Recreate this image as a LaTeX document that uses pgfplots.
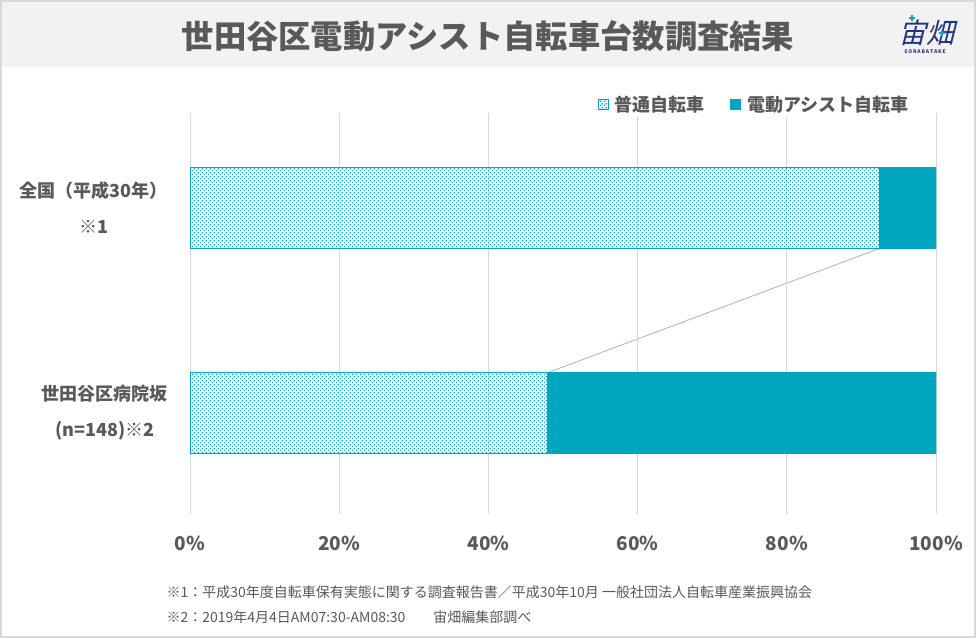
\documentclass[border=0pt]{standalone}
\usepackage{pgfplots}
\pgfplotsset{compat=1.18}
\usepackage{fontspec}
\setmainfont{Noto Sans CJK JP}
\newfontfamily\logofont[FakeSlant=0.25]{Noto Sans CJK JP}
\usetikzlibrary{patterns.meta}
\definecolor{tealc}{HTML}{00A5BF}
\definecolor{textgray}{HTML}{595959}
\definecolor{gridgray}{HTML}{D9D9D9}
\definecolor{headgray}{HTML}{F2F2F2}
\definecolor{navy}{HTML}{26337F}
\tikzdeclarepattern{
  name=tealdots,
  type=uncolored,
  bottom left={(0pt,0pt)},
  top right={(4pt,4pt)},
  tile size={(4pt,4pt)},
  code={\fill (0pt,0pt) rectangle (1.5pt,1.5pt); \fill (2pt,2pt) rectangle (3.5pt,3.5pt);}
}
\begin{document}
\begin{tikzpicture}[x=1pt,y=1pt]
\useasboundingbox (0,0) rectangle (976,638);
\fill[white] (0,0) rectangle (976,638);
\fill[headgray] (0,571) rectangle (976,638);
\draw[gridgray, line width=2pt] (1,1) rectangle (975,637);
\node[text=textgray, font=\fontsize{32.3}{34}\selectfont\bfseries] at (488,602) {世田谷区電動アシスト自転車台数調査結果};
% logo
\node[text=navy, font=\fontsize{28}{30}\selectfont\logofont] at (926,605) {宙畑};
\node[text=navy, font=\fontsize{5}{6}\selectfont\bfseries] at (925,586) {S\,O\,R\,A\,B\,A\,T\,A\,K\,E};
\draw[tealc, line width=1.2pt] (909,620) -- (915,620) (912,617) -- (912,623);
\draw[tealc, line width=1.2pt] (939,605) -- (945,605) (942,602) -- (942,608);
% connector lines
\begin{axis}[at={(190pt,124pt)}, anchor=south west, scale only axis, width=746pt, height=401pt,
  xmin=0, xmax=100, ymin=0.5073, ymax=2.4634, hide axis]
\addplot[color=black!30, line width=0.8pt] coordinates {(92.4,1.8024) (48.0,1.1976)};
\addplot[color=black!30, line width=0.8pt] coordinates {(100,1.8024) (100,1.1976)};
\end{axis}
\begin{axis}[at={(190pt,124pt)}, anchor=south west, scale only axis, width=746pt, height=401pt,
  xbar stacked, bar width=81pt,
  xmin=0, xmax=100, ymin=0.5073, ymax=2.4634,
  xtick={0,20,40,60,80,100},
  xticklabel={\pgfmathprintnumber{\tick}\%},
  /pgf/number format/assume math mode=true,
  xmajorgrids, grid style={gridgray, line width=1pt},
  axis line style={draw=none}, tick style={draw=none},
  ytick={1,2},
  yticklabels={{世田谷区病院坂\\(n=148)※2},{全国（平成30年）\\※1}},
  yticklabel style={align=center, font=\fontsize{18}{36}\selectfont\bfseries, text=textgray, inner sep=0pt, xshift=-22pt},
  xticklabel style={font=\fontsize{19}{22}\selectfont\bfseries, text=textgray, inner sep=0pt, anchor=north, yshift=-22pt},
  legend columns=2,
  legend style={at={(0.756,1.022)}, anchor=center, draw=none, fill=white,
    font=\fontsize{18}{20}\selectfont\bfseries, text=textgray,
    /tikz/every odd column/.append style={column sep=4pt},
    /tikz/every even column/.append style={column sep=24pt}},
  legend image code/.code={\draw[#1, line width=0.8pt] (0pt,-5pt) rectangle (10pt,5pt);},
]
\addplot[draw=tealc, line width=1.5pt, pattern=tealdots, pattern color=tealc] coordinates {(92.4,2) (48.0,1)};
\addplot[draw=tealc, fill=tealc, line width=0.5pt] coordinates {(7.6,2) (52.0,1)};
\legend{普通自転車,電動アシスト自転車}
\end{axis}
\node[anchor=west, text=textgray, font=\fontsize{14}{15}\selectfont] at (163,46) {※1：平成30年度自転車保有実態に関する調査報告書／平成30年10月 一般社団法人自転車産業振興協会};
\node[anchor=west, text=textgray, font=\fontsize{14}{15}\selectfont] at (163,21) {※2：2019年4月4日AM07:30-AM08:30\quad\quad 宙畑編集部調べ};
\end{tikzpicture}
\end{document}
